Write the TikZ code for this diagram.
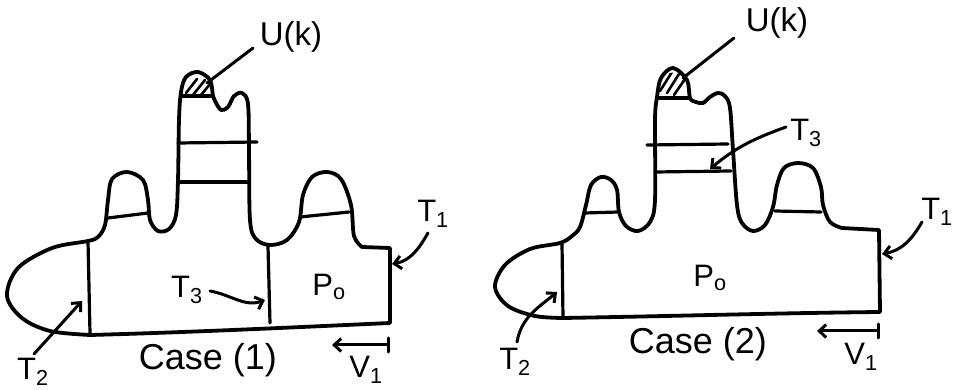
\documentclass[tikz,border=0pt]{standalone}
\usepackage{fontspec}
\setmainfont{Liberation Sans}
\usetikzlibrary{arrows.meta}
\begin{document}
\begin{tikzpicture}[x=1pt,y=-1pt, line cap=round, line join=round,
  outline/.style={draw=black, line width=3.8pt},
  thin/.style={draw=black, line width=3.2pt},
  hatch/.style={draw=black, line width=2.6pt},
  lbl/.style={font=\fontsize{31}{33}\selectfont, inner sep=0pt},
  ulbl/.style={font=\fontsize{33}{35}\selectfont, inner sep=0pt},
  caselbl/.style={font=\fontsize{36}{38}\selectfont, inner sep=0pt},
  pointer/.style={line width=3pt, -{Straight Barb[length=7pt,width=13pt]}},
  leader/.style={line width=3pt},
]
\useasboundingbox (0,0) rectangle (954,390);

% ================= LEFT FIGURE: Case (1) =================
\draw[outline] (390,323) -- (390,248) -- (362,247) -- plot[smooth, tension=0.55] coordinates {
 (362,247) (354,236) (351,205) (341,179) (327,172) (312,177) (303,195) (299,222) (287,240)
 (270,245) (256,239) (250,220) (249,150) (248,104) (242,93) (234,96) (228,107) (221,110) (215,101)
 (213,96) (210,80) (198,72) (186,77) (181,92) (179,120) (178,180) (176,215) (169,229) (158,231)
 (150,220) (148,200) (143,180) (127,172) (112,179) (108,200) (105,225) (98,237) (88,241)
 (52,248) (18,268) (7,296) (22,318) (50,331) (90,335)} .. controls (200,332) and (300,327) .. (390,323);
% cap hatching
\begin{scope}
 \clip (181,96) .. controls (180,68) and (214,66) .. (213,96) -- cycle;
 \draw[hatch] (186,93) -- (197,79);
 \draw[hatch] (193,95) -- (205,80);
 \draw[hatch] (201,95) -- (211,83);
\end{scope}
\draw[thin] (181,96) -- (213,96);
% column lines
\draw[thin] (178,143) -- (257,142);
\draw[thin] (178,182) -- (248,182);
% bump lines
\draw[thin] (108,218) -- (148,213);
\draw[thin] (300,217) -- (349,212);
% vertical lines
\draw[thin] (88,241) -- (90,333);
\draw[thin] (268,246) -- (270,323);

% labels
\node[ulbl] (uL) at (291,37) {U(k)};
\coordinate (capL) at (207,83);
\draw[leader] (253,48) -- (capL);

\node[lbl] (t3L) at (187,290) {T\textsubscript{3}};
\coordinate (t3Lend) at (265,300);
\draw[pointer] (t3L.east) ++(7,1) to[out=-10,in=200] (t3Lend);

\node[lbl] (poL) at (329,287) {P\textsubscript{o}};

\node[lbl] (t1L) at (433,214) {T\textsubscript{1}};
\coordinate (t1Lend) at (392,264);
\draw[pointer] (428,233) to[out=240,in=10] (t1Lend);

\node[lbl] (t2L) at (33,372) {T\textsubscript{2}};
\coordinate (t2Lend) at (82,301);
\draw[pointer] (34,354) -- (t2Lend);

\node[caselbl] (caseL) at (208,360) {Case (1)};

\coordinate (v1Ls) at (388,345);
\coordinate (v1Le) at (332,345);
\draw[pointer] (v1Ls) -- (v1Le);
\draw[leader] (388,338) -- (388,352);
\node[lbl] (v1L) at (366,370) {V\textsubscript{1}};

% ================= RIGHT FIGURE: Case (2) =================
\draw[outline] (880,312) -- (879,230) -- (842,228) -- plot[smooth, tension=0.55] coordinates {
 (842,228) (830,222) (823,205) (821,187) (813,168) (798,163) (784,168) (777,185) (773,207)
 (765,225) (753,231) (742,223) (737,205) (733,150) (730,108) (725,96) (718,93) (710,97)
 (703,103) (696,102) (690,98) (687,80) (673,68) (661,78) (657,97) (655,120) (655,200)
 (650,222) (638,231) (626,226) (619,212) (617,190) (611,180) (601,177) (591,185) (586,205)
 (580,227) (572,236) (560,243) (530,249) (505,265) (495,287) (508,306) (535,316) (563,318)}
 .. controls (680,316) and (780,313) .. (880,312);
\begin{scope}
 \clip (657,98) .. controls (656,64) and (692,64) .. (690,98) -- cycle;
 \draw[hatch] (660,91) -- (672,72);
 \draw[hatch] (667,93) -- (679,74);
 \draw[hatch] (674,95) -- (685,79);
\end{scope}
\draw[thin] (657,98) -- (690,98);
\draw[thin] (647,145) -- (728,144);
\draw[thin] (655,172) -- (731,171);
\draw[thin] (585,213) -- (618,212);
\draw[thin] (775,211) -- (821,212);
\draw[thin] (562,243) -- (563,318);

\node[ulbl] (uR) at (777,23) {U(k)};
\coordinate (capR) at (683,78);
\draw[leader] (734,38) -- (capR);

\node[lbl] (t3R) at (806,133) {T\textsubscript{3}};
\coordinate (t3Rend) at (710,169);
\draw[pointer] (786,127) to[out=200,in=40] (t3Rend);

\node[lbl] (poR) at (710,278) {P\textsubscript{o}};

\node[lbl] (t1R) at (937,212) {T\textsubscript{1}};
\coordinate (t1Rend) at (882,254);
\draw[pointer] (922,222) to[out=240,in=10] (t1Rend);

\node[lbl] (t2R) at (515,362) {T\textsubscript{2}};
\coordinate (t2Rend) at (557,292);
\draw[pointer] (517,342) to[out=80,in=220] (t2Rend);

\node[caselbl] (caseR) at (698,344) {Case (2)};

\coordinate (v1Rs) at (878,331);
\coordinate (v1Re) at (817,331);
\draw[pointer] (v1Rs) -- (v1Re);
\draw[leader] (878,324) -- (878,338);
\node[lbl] (v1R) at (861,357) {V\textsubscript{1}};
\end{tikzpicture}
\end{document}
